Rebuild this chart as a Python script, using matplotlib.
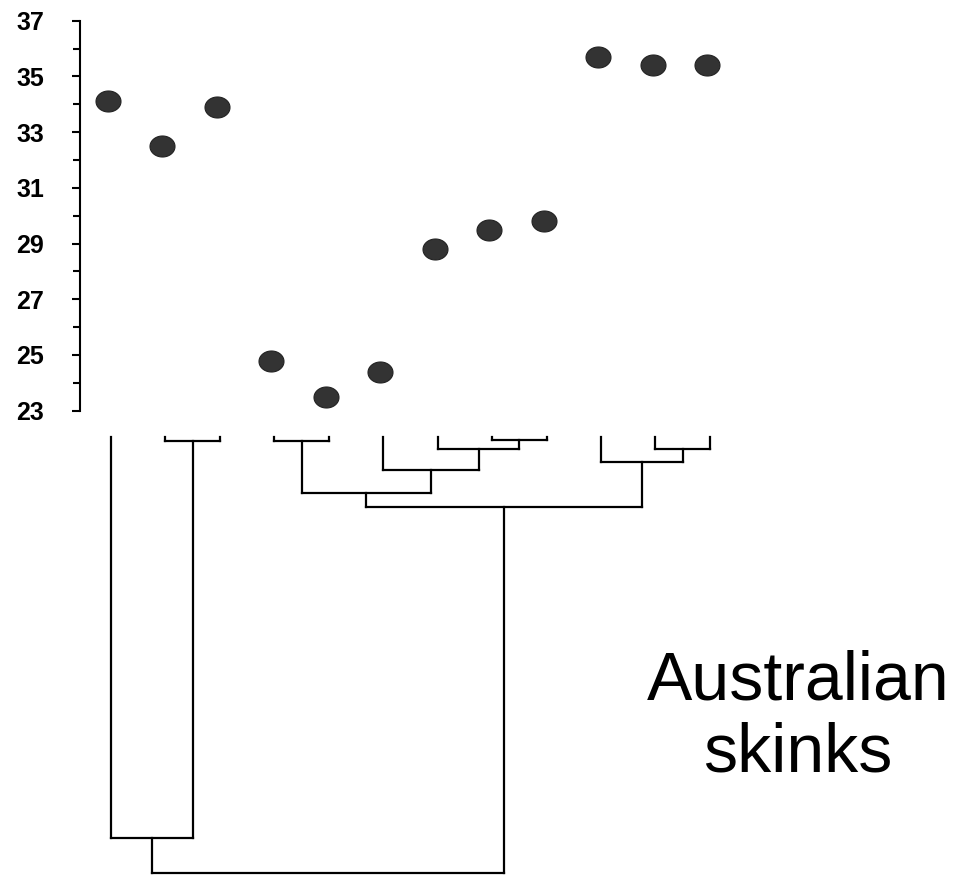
import matplotlib
matplotlib.use('Agg')
import matplotlib.pyplot as plt
import numpy as np
from matplotlib.ticker import MultipleLocator

# body temperature per species, species 1..12 left to right
especies = np.arange(1, 13)
temperatura = [34.1, 32.5, 33.9, 24.8, 23.5, 24.4, 28.8, 29.5, 29.8, 35.7, 35.4, 35.4]
ticks_y = [23, 25, 27, 29, 31, 33, 35, 37]

# tree merges: (child a, child b, depth); leaves are 0..11, new nodes numbered from 12
fusoes = [
    (1, 2, 4),
    (3, 4, 4),
    (7, 8, 3),
    (6, 14, 12),
    (10, 11, 12),
    (5, 15, 33),
    (9, 16, 25),
    (13, 17, 56),
    (19, 18, 70),
    (0, 12, 401),
    (21, 20, 436),
]

#################################################################################################################

plt.rcParams['font.family'] = ['Liberation Sans', 'DejaVu Sans']

fig = plt.figure(figsize=(9.65, 8.77), dpi=100)
W, H = 965, 877

# scatter panel
ax = fig.add_axes([80 / W, 1 - 410.7 / H, 1 - 80 / W, (410.7 - 20.7) / H])
t = np.linspace(0, 2 * np.pi, 60)
elipse = np.column_stack([np.cos(t), 0.84 * np.sin(t)])
ax.plot(especies, temperatura, linestyle='none', marker=elipse, markersize=18,
        color='#333333', markeredgecolor='#222222', markeredgewidth=0.8)

ax.set_ylim(23, 37)
ax.set_xlim(1 - 28 / 54.45, 1 + (W - 108) / 54.45)
ax.set_yticks(ticks_y)
ax.yaxis.set_minor_locator(MultipleLocator(2))
ax.yaxis.set_minor_locator(matplotlib.ticker.FixedLocator(np.arange(24, 37, 2)))
ax.set_xticks([])
for s in ['top', 'right', 'bottom']:
    ax.spines[s].set_visible(False)
ax.spines['left'].set_linewidth(1.5)
ax.tick_params(axis='y', which='major', length=6, width=1.5, pad=20, labelsize=18)
ax.tick_params(axis='y', which='minor', length=5, width=1.5)
for lbl in ax.get_yticklabels():
    lbl.set_fontweight('bold')

# tree panel
ax2 = fig.add_axes([83 / W, 0, 1 - 83 / W, 1 - 437 / H])
ax2.set_xlim(1 - 28 / 54.45, 1 + (W - 111) / 54.45)
ax2.set_ylim(440, 0)
ax2.axis('off')

pos_x = {i: float(x) for i, x in enumerate(especies)}
prof = {i: 0.0 for i in range(len(especies))}
for k, (a, b, d) in enumerate(fusoes):
    n = len(especies) + k
    for c in (a, b):
        ax2.plot([pos_x[c], pos_x[c]], [prof[c], d], color='black', lw=1.6,
                 solid_capstyle='projecting', clip_on=False)
    ax2.plot([pos_x[a], pos_x[b]], [d, d], color='black', lw=1.6,
             solid_capstyle='projecting', clip_on=False)
    pos_x[n] = (pos_x[a] + pos_x[b]) / 2
    prof[n] = d

fig.text(798 / W, 1 - 700 / H, 'Australian', fontsize=49, ha='center', va='baseline')
fig.text(798 / W, 1 - 772 / H, 'skinks', fontsize=49, ha='center', va='baseline')

plt.savefig('out.png', dpi=100)
